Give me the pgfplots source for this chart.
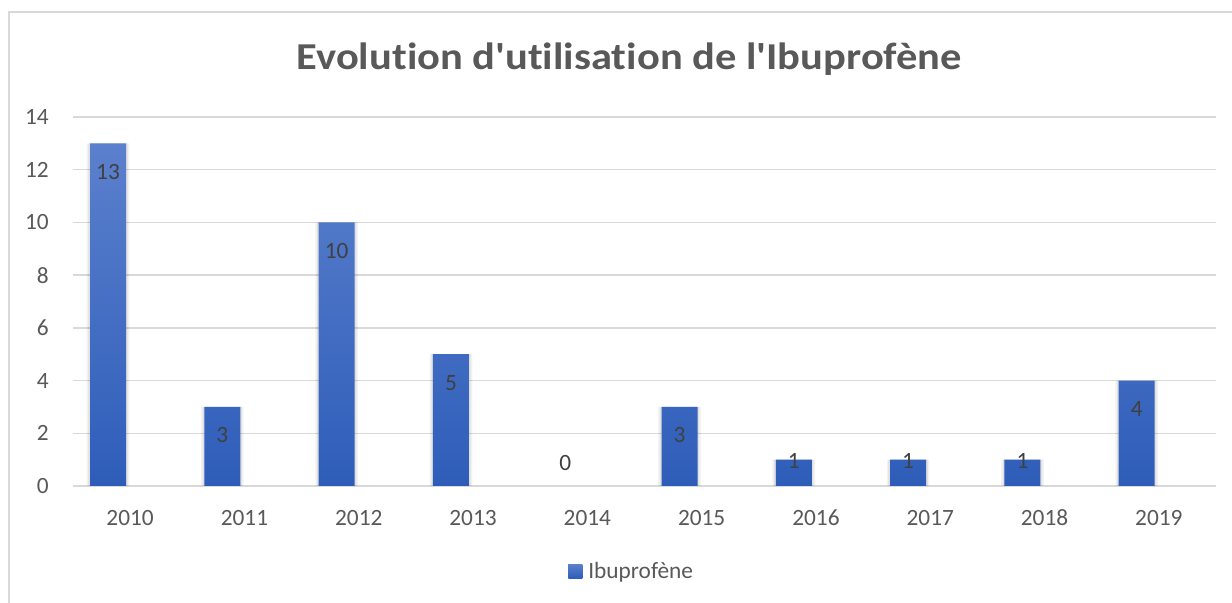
\documentclass[border=0pt]{standalone}
\usepackage{fontspec}
\setmainfont{Carlito}[Ligatures=NoCommon]
\usepackage{graphicx}
\usepackage{pgfplots}
\pgfplotsset{compat=1.18}
\definecolor{gridgray}{HTML}{D9D9D9}
\definecolor{textgray}{HTML}{595959}
\definecolor{labelgray}{HTML}{404040}
\definecolor{bartop}{HTML}{5B80CD}
\definecolor{barbot}{HTML}{2E5DB9}
\definecolor{barmain}{HTML}{4472C4}
\newcommand{\px}{0.75pt}
\begin{document}
\begin{tikzpicture}
\useasboundingbox (0,0) rectangle (924pt,452.25pt);
\fill[white] (0,0) rectangle (924pt,452.25pt);
\draw[gridgray, line width=0.9pt] ({9*\px},{-20*\px}) rectangle ({1260*\px},{(603-12)*\px});
\node[font=\fontsize{28.5}{34}\selectfont\bfseries, text=textgray, anchor=base west, inner sep=0pt]
  at ({296.5*\px},{(603-70)*\px}) {\resizebox{498.75pt}{\height}{Evolution d\textquotesingle utilisation de l\textquotesingle Ibuprofène}};
\begin{axis}[
  at={({73*\px},{117*\px})}, anchor=south west,
  scale only axis, width=857.25pt, height=276.75pt,
  xmin=-0.5, xmax=9.5, ymin=0, ymax=14,
  xtick={0,...,9}, xticklabels={2010,2011,2012,2013,2014,2015,2016,2017,2018,2019},
  ytick={0,2,...,14},
  axis lines=left, axis line style={draw=none,-},
  major tick length=0pt,
  ymajorgrids, grid style={draw=gridgray, line width=1pt},
  tick label style={font=\fontsize{17.5}{21}\selectfont, text=textgray, inner sep=0pt},
  yticklabel style={anchor=east, xshift=-18pt},
  xticklabel style={anchor=base, yshift=-29.8pt},
  /pgf/number format/assume math mode=true,
  clip=false,
  legend style={draw=none, fill=none, at={(axis description cs:0.4331,-0.2304)}, anchor=west,
    font=\fontsize{17.5}{21}\selectfont, text=textgray, inner sep=0pt, column sep=4.5pt,
    nodes={inner sep=0pt}},
]
% soft shadow
\addplot[ybar, bar width=32pt, bar shift=-16.6pt, fill=black, fill opacity=0.05, draw=none, forget plot]
  coordinates {(0,13) (1,3) (2,10) (3,5) (5,3) (6,1) (7,1) (8,1) (9,4)};
\addplot[ybar, bar width=29.5pt, bar shift=-16.6pt, fill=black, fill opacity=0.07, draw=none, forget plot]
  coordinates {(0,13) (1,3) (2,10) (3,5) (5,3) (6,1) (7,1) (8,1) (9,4)};
% bars
\addplot[ybar, bar width=27pt, bar shift=-16.6pt, draw=none, top color=bartop, bottom color=barbot,
  legend image code/.code={\fill[barmain] (0pt,-5.25pt) rectangle (10.5pt,5.25pt);}]
  coordinates {(0,13) (1,3) (2,10) (3,5) (5,3) (6,1) (7,1) (8,1) (9,4)};
\addlegendentry{Ibuprofène}
% data labels
\addplot[draw=none, forget plot, nodes near coords, point meta=explicit symbolic,
  every node near coord/.style={anchor=center, xshift=-16.6pt, inner sep=0pt,
    font=\fontsize{17.5}{21}\selectfont, text=labelgray}]
  coordinates {(0,11.92)[13] (1,1.92)[3] (2,8.92)[10] (3,3.92)[5] (4,0.89)[0]
    (5,1.92)[3] (6,0.95)[1] (7,0.95)[1] (8,0.95)[1] (9,2.92)[4]};
\end{axis}
\end{tikzpicture}
\end{document}
